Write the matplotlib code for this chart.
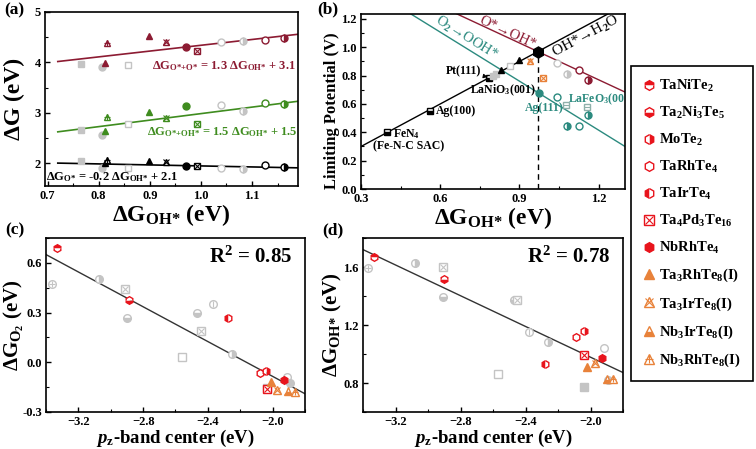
import matplotlib
matplotlib.use('Agg')
import numpy as np
import matplotlib.pyplot as plt
from matplotlib.lines import Line2D
from matplotlib.ticker import MultipleLocator

plt.rcParams['font.family'] = ['Liberation Serif', 'DejaVu Serif']
plt.rcParams['font.weight'] = 'bold'
plt.rcParams['axes.labelweight'] = 'bold'
plt.rcParams['mathtext.fontset'] = 'custom'
plt.rcParams['mathtext.rm'] = 'Liberation Serif:bold'
plt.rcParams['mathtext.it'] = 'Liberation Serif:italic:bold'
plt.rcParams['mathtext.bf'] = 'Liberation Serif:bold'
plt.rcParams['axes.linewidth'] = 1.2
plt.rcParams['xtick.direction'] = 'in'
plt.rcParams['ytick.direction'] = 'in'

RED = '#e8141c'
ORANGE = '#e8823a'
MAROON = '#8c1b32'
GREEN = '#3f8c1f'
TEAL = '#2b8a7f'
GRAY = '#c4c4c4'
SQGRAY = '#8fb0aa'

# ---------------- data ----------------
# (a) adsorption free energies vs dG_OH*
a_x = [0.766, 0.806, 0.813, 0.817, 0.857, 0.898, 0.931, 0.971, 0.992, 1.039, 1.082, 1.125, 1.163]
a_oo = [3.96, 3.91, 3.99, 4.39, 3.95, 4.53, 4.41, 4.31, 4.23, 4.41, 4.43, 4.44, 4.49]
a_ooh = [2.67, 2.56, 2.64, 2.91, 2.78, 3.01, 2.89, 3.13, 2.78, 3.16, 3.04, 3.19, 3.18]
a_o = [2.04, 1.91, 2.01, 2.06, 1.91, 2.05, 2.03, 1.95, 1.95, 1.91, 1.88, 1.96, 1.93]
a_kind = ['sq', 'ci', 'tri', 'tri_plus', 'sq_open', 'tri', 'tri_x', 'ci', 'sq_x',
          'ci_open', 'ci_right', 'ci_open', 'ci_right']
a_gray = [1, 1, 0, 0, 1, 0, 0, 0, 0, 1, 1, 0, 0]
# fitted lines as drawn (slope, intercept)
a_fit_oo = (1.15, 3.19)
a_fit_ooh = (1.29, 1.695)
a_fit_o = (-0.2, 2.148)

# (b) volcano
b_oh_x = [0.40, 0.56, 0.784, 0.80, 0.81, 0.83, 0.866, 0.90, 0.939, 0.97]
b_oh_y = [0.40, 0.55, 0.78, 0.80, 0.81, 0.84, 0.867, 0.91, 0.903, 0.97]
b_oh_kind = ['sq_bottom', 'sq_bottom', 'sq_bottom', 'sq', 'sq', 'tri', 'sq_open', 'tri', 'tri_x', 'hex']
b_oh_col = ['k', 'k', 'k', 'gray', 'gray', 'k', 'gray', 'k', 'orange', 'k']
b_o_x = [0.99, 1.042, 1.08, 1.124, 1.16]
b_o_y = [0.78, 0.89, 0.81, 0.84, 0.77]
b_o_kind = ['sq_x', 'ci_open', 'ci_right', 'ci_open', 'ci_right']
b_o_col = ['orange', 'gray', 'gray', 'maroon', 'maroon']
b_ooh_x = [0.975, 1.042, 1.077, 1.155, 1.16, 1.08, 1.124]
b_ooh_y = [0.674, 0.65, 0.59, 0.58, 0.52, 0.447, 0.447]
b_ooh_kind = ['ci', 'ci_open', 'sq_line', 'sq_line', 'ci_right', 'ci_right', 'ci_open']
b_ooh_col = ['teal', 'teal', 'sqgray', 'sqgray', 'teal', 'teal', 'teal']
b_top = 0.97          # volcano top
b_line_o = (-0.866, 1.81)
b_line_ooh = (-1.153, 1.799)

# (c) dG_O2 vs pz-band centre, (d) dG_OH* vs pz-band centre
pz_c = [-3.36, -3.07, -2.91, -2.90, -2.47, -2.37, -2.44, -2.56, -2.25, -1.91, -1.89, -2.035,
        -3.33, -2.89, -2.275, -2.08, -2.04, -2.035, -1.93, -2.01, -1.97, -1.905, -1.86]
dg_o2 = [0.47, 0.50, 0.44, 0.27, 0.30, 0.35, 0.19, 0.03, 0.05, -0.086, -0.128, -0.155,
         0.69, 0.374, 0.27, -0.066, -0.05, -0.16, -0.106, -0.12, -0.17, -0.176, -0.18]
pz_d = [-3.37, -3.08, -2.91, -2.91, -2.47, -2.38, -2.45, -2.57, -2.26, -1.92, -1.895, -2.04,
        -3.335, -2.90, -2.28, -2.09, -2.04, -2.037, -1.93, -2.02, -1.975, -1.90, -1.86]
dg_oh = [1.59, 1.63, 1.60, 1.39, 1.37, 1.15, 1.37, 0.86, 1.08, 1.04, 0.82, 0.775,
         1.67, 1.52, 0.93, 1.12, 1.16, 0.99, 0.97, 0.91, 0.94, 0.83, 0.83]
cd_kind = ['ci_plus', 'ci_right', 'sq_x', 'ci_bottom', 'ci_bottom', 'ci_vline', 'sq_x', 'sq_open',
           'ci_right', 'ci_open', 'ci', 'sq',
           'hex_top', 'hex_bottom', 'hex_left', 'hex_open', 'hex_right', 'sq_x', 'hex',
           'tri', 'tri_x', 'tri_bottom', 'tri_plus']
cd_col = ['gray'] * 12 + ['red'] * 7 + ['orange'] * 4
c_fit = (-0.525, -1.135)
d_fit = (-0.53, -0.082)

materials = ['TaNiTe$_2$', 'Ta$_2$Ni$_3$Te$_5$', 'MoTe$_2$', 'TaRhTe$_4$', 'TaIrTe$_4$',
             'Ta$_4$Pd$_3$Te$_{16}$', 'NbRhTe$_4$', 'Ta$_3$RhTe$_8$(I)', 'Ta$_3$IrTe$_8$(I)',
             'Nb$_3$IrTe$_8$(I)', 'Nb$_3$RhTe$_8$(I)']
mat_kind = ['hex_top', 'hex_bottom', 'hex_right', 'hex_open', 'hex_left', 'sq_x', 'hex',
            'tri', 'tri_x', 'tri_bottom', 'tri_plus']
mat_col = ['red'] * 7 + ['orange'] * 4

COLORS = {'k': 'black', 'gray': GRAY, 'orange': ORANGE, 'red': RED, 'maroon': MAROON,
          'teal': TEAL, 'green': GREEN, 'sqgray': SQGRAY}
SHAPES = {'sq': 's', 'ci': 'o', 'hex': 'h', 'tri': '^'}
OVER = {'x': 'x', 'plus': '+', 'line': '_', 'vline': '|'}


def handle(kind, c, ms=6):
    # builds a marker (or a stacked pair of markers) for one point style
    shape, _, mod = kind.partition('_')
    kw = dict(marker=SHAPES[shape], ls='none', ms=ms, mec=c, mew=1.0)
    if mod == '':
        return Line2D([], [], mfc=c, **kw)
    if mod in ('top', 'bottom', 'left', 'right'):
        return Line2D([], [], mfc=c, fillstyle=mod, markerfacecoloralt='white', **kw)
    base = Line2D([], [], mfc='white', **kw)
    if mod in OVER:
        return (base, Line2D([], [], marker=OVER[mod], ls='none', ms=ms * 0.8, mec=c, mew=0.8))
    return base


def dot(ax, x, y, kind, c, ms=6, z=3):
    h = handle(kind, c, ms)
    for part in (h if isinstance(h, tuple) else (h,)):
        part.set_data([x], [y])
        part.set_zorder(z)
        ax.add_line(part)


W, H = 756, 449
fig = plt.figure(figsize=(W / 100, H / 100), dpi=100)


def box(l, t, r, b):
    return fig.add_axes([l / W, 1 - b / H, (r - l) / W, (b - t) / H])


def tag(x, y, s):
    fig.text(x / W, 1 - y / H, s, fontsize=12.5, ha='center', va='center')


def style(ax):
    ax.tick_params(labelsize=9, pad=3, length=3.5, width=1.0, top=False, right=False)
    ax.tick_params(which='minor', length=2, width=0.8)
    for t in ax.get_xticklabels() + ax.get_yticklabels():
        t.set_fontweight('bold')


# ---------------- (a) ----------------
ax = box(45, 12, 298, 186)
xs = np.linspace(0.72, 1.19, 10)
for fit, ys, col in [(a_fit_oo, a_oo, MAROON), (a_fit_ooh, a_ooh, GREEN), (a_fit_o, a_o, 'black')]:
    ax.plot(xs, fit[0] * xs + fit[1], color=col, lw=1.2, zorder=2)
    for xi, yi, k, g in zip(a_x, ys, a_kind, a_gray):
        dot(ax, xi, yi, k, GRAY if g else col, ms=5)
ax.text(0.905, 3.93, 'ΔG$_{\\rm O{*}{+}O{*}}$ = 1.3 ΔG$_{\\rm OH{*}}$ + 3.1', color=MAROON,
        fontsize=9, va='center')
ax.text(0.895, 2.62, 'ΔG$_{\\rm O{*}{+}OH{*}}$ = 1.5 ΔG$_{\\rm OH{*}}$ + 1.5', color=GREEN,
        fontsize=9, va='center')
ax.text(0.697, 1.73, 'ΔG$_{\\rm O{*}}$ = -0.2 ΔG$_{\\rm OH{*}}$ + 2.1', color='black',
        fontsize=9, va='center')
ax.set_xlim(0.695, 1.19)
ax.set_ylim(1.55, 5.0)
ax.xaxis.set_major_locator(MultipleLocator(0.1))
ax.xaxis.set_minor_locator(MultipleLocator(0.05))
ax.yaxis.set_major_locator(MultipleLocator(1))
ax.yaxis.set_minor_locator(MultipleLocator(0.5))
ax.set_xlabel('ΔG$_{\\rm OH{*}}$ (eV)', fontsize=17, labelpad=0)
ax.set_ylabel('ΔG (eV)', fontsize=17)
ax.yaxis.set_label_coords((25 - 45) / 253, 0.5)
style(ax)
tag(14, 10, '(a)')

# ---------------- (b) ----------------
bx = box(361, 14, 625, 189)
xl = np.array([0.3, 1.3])
bx.plot([0.3, 1.235], [0.3, 1.235], color='black', lw=1.0, zorder=2)
bx.plot(xl, b_line_o[0] * xl + b_line_o[1], color=MAROON, lw=1.0, zorder=2)
bx.plot(xl, b_line_ooh[0] * xl + b_line_ooh[1], color=TEAL, lw=1.0, zorder=2)
bx.plot([b_top, b_top], [0, b_top], color='black', lw=1.0, ls=(0, (4, 3)), zorder=2)
for xs_, ys_, ks, cs in [(b_oh_x, b_oh_y, b_oh_kind, b_oh_col), (b_o_x, b_o_y, b_o_kind, b_o_col),
                         (b_ooh_x, b_ooh_y, b_ooh_kind, b_ooh_col)]:
    for xi, yi, k, c in zip(xs_, ys_, ks, cs):
        dot(bx, xi, yi, k, COLORS[c], ms=8 if k == 'hex' else 5)
bx.set_xlim(0.3, 1.3)
bx.set_ylim(0, 1.235)


def angle(ax, slope):
    p = ax.transData.transform([(0, 0), (1, slope)])
    return np.degrees(np.arctan2(p[1, 1] - p[0, 1], p[1, 0] - p[0, 0]))


fig.canvas.draw()
bx.text(0.857, 1.10, 'O*→OH*', color=MAROON, fontsize=10.5, ha='center', va='center',
        rotation=angle(bx, b_line_o[0]), rotation_mode='anchor', fontweight='normal')
bx.text(0.70, 1.065, 'O$_2$→OOH*', color=TEAL, fontsize=10.5, ha='center', va='center',
        rotation=angle(bx, b_line_ooh[0]), rotation_mode='anchor', fontweight='normal')
bx.text(1.15, 1.075, 'OH*→H$_2$O', color='black', fontsize=11, ha='center', va='center',
        rotation=angle(bx, 1.0), rotation_mode='anchor', fontweight='normal')
bx.text(0.42, 0.385, 'FeN$_4$', fontsize=8.5, va='center')
bx.text(0.48, 0.30, '(Fe-N-C SAC)', fontsize=8.5, ha='center', va='center')
bx.text(0.585, 0.55, 'Ag(100)', fontsize=8.5, va='center')
bx.annotate('Pt(111)', xy=(0.78, 0.79), xytext=(0.755, 0.83), fontsize=8.5, ha='right',
            va='center', arrowprops=dict(arrowstyle='-|>', color='black', lw=0.8,
                                         mutation_scale=6))
bx.text(0.84, 0.70, 'LaNiO$_3$(001)', fontsize=8.5, ha='center', va='center')
bx.text(0.995, 0.575, 'Ag(111)', fontsize=8.5, ha='center', va='center', color=TEAL)
bx.text(1.085, 0.635, 'LaFeO$_3$(001)', fontsize=8.5, va='center', color=TEAL, clip_on=True)
bx.xaxis.set_major_locator(MultipleLocator(0.3))
bx.xaxis.set_minor_locator(MultipleLocator(0.15))
bx.yaxis.set_major_locator(MultipleLocator(0.2))
bx.yaxis.set_minor_locator(MultipleLocator(0.1))
bx.yaxis.set_major_formatter(plt.FormatStrFormatter('%.1f'))
bx.set_xlabel('ΔG$_{\\rm OH{*}}$ (eV)', fontsize=17, labelpad=0)
bx.set_ylabel('Limiting Potential (V)', fontsize=12)
bx.yaxis.set_label_coords((340 - 361) / 264, 0.45)
style(bx)
tag(328, 9, '(b)')

# ---------------- (c) & (d) ----------------
cx = box(46, 238, 305, 412)
dx = box(363, 238, 623, 412)
for ax_, ys, fit, r2 in [(cx, dg_o2, c_fit, '0.85'), (dx, dg_oh, d_fit, '0.78')]:
    px = pz_c if ax_ is cx else pz_d
    xl = np.array([-3.4, -1.8])
    ax_.plot(xl, fit[0] * xl + fit[1], color='#333333', lw=1.0, zorder=2)
    for xi, yi, k, c in zip(px, ys, cd_kind, cd_col):
        dot(ax_, xi, yi, k, COLORS[c], ms=5.5)
    ax_.set_xlim(-3.4, -1.8)
    ax_.xaxis.set_major_locator(MultipleLocator(0.4))
    ax_.xaxis.set_minor_locator(MultipleLocator(0.2))
    ax_.set_xlabel('$p$$_{\\rm z}$-band center (eV)', fontsize=13.5, labelpad=0)
    ax_.text(0.95, 0.89, 'R$^2$ = ' + r2, transform=ax_.transAxes, fontsize=15,
             ha='right', va='center')
    style(ax_)
cx.set_ylim(-0.3, 0.75)
cx.yaxis.set_major_locator(MultipleLocator(0.3))
cx.yaxis.set_minor_locator(MultipleLocator(0.15))
cx.yaxis.set_major_formatter(plt.FormatStrFormatter('%.1f'))
cx.set_ylabel('ΔG$_{\\rm O_2}$ (eV)', fontsize=15)
cx.yaxis.set_label_coords((26 - 46) / 259, 0.5)
dx.set_ylim(0.6, 1.8)
dx.yaxis.set_major_locator(MultipleLocator(0.4))
dx.yaxis.set_minor_locator(MultipleLocator(0.2))
dx.yaxis.set_major_formatter(plt.FormatStrFormatter('%.1f'))
dx.set_ylabel('ΔG$_{\\rm OH{*}}$ (eV)', fontsize=15)
dx.yaxis.set_label_coords((344 - 363) / 260, 0.5)
tag(15, 230, '(c)')
tag(333, 230, '(d)')

# ---------------- legend ----------------
handles = [handle(k, COLORS[c], ms=7) for k, c in zip(mat_kind, mat_col)]
leg = fig.legend(handles, materials, loc='upper left', bbox_to_anchor=(631 / W, 1 - 66 / H),
                 borderaxespad=0, frameon=True, fancybox=False, edgecolor='black',
                 framealpha=1, fontsize=10.5, handlelength=0.8, handletextpad=0.35,
                 labelspacing=0.75, borderpad=0.8)
leg.get_frame().set_linewidth(1.2)

fig.savefig('out.png', dpi=100)
